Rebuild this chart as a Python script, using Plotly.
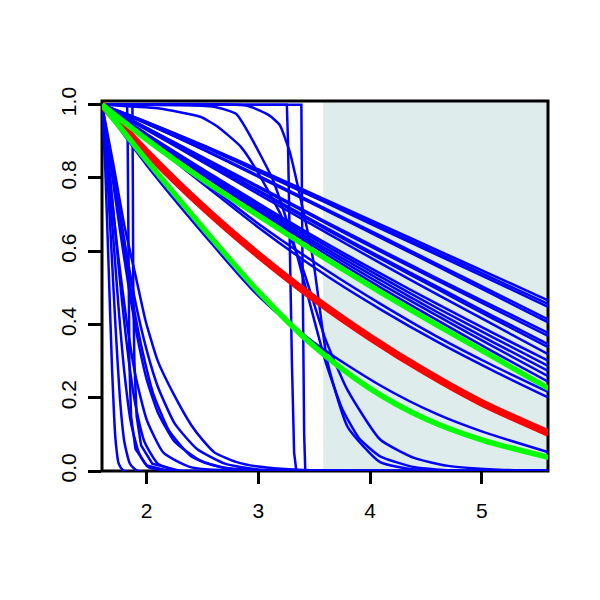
import plotly.graph_objects as go

# ---------------- data ----------------
# fan of slowly decaying blue curves, sampled at fan_t
fan_t = [1.6, 2.0, 2.5, 3.0, 3.6, 4.1, 4.6, 5.1, 5.6]
fan_1 = [1, 0.953, 0.890, 0.823, 0.741, 0.672, 0.603, 0.534, 0.465]
fan_2 = [1, 0.952, 0.888, 0.820, 0.737, 0.666, 0.596, 0.526, 0.455]
fan_3 = [1, 0.951, 0.886, 0.817, 0.733, 0.661, 0.590, 0.519, 0.447]
fan_4 = [1, 0.948, 0.879, 0.806, 0.716, 0.641, 0.565, 0.489, 0.413]
fan_5 = [1, 0.948, 0.878, 0.803, 0.712, 0.636, 0.559, 0.482, 0.405]
fan_6 = [1, 0.937, 0.857, 0.777, 0.681, 0.603, 0.526, 0.451, 0.376]
fan_7 = [1, 0.936, 0.855, 0.774, 0.677, 0.598, 0.520, 0.444, 0.368]
fan_8 = [1, 0.934, 0.850, 0.766, 0.665, 0.583, 0.503, 0.423, 0.345]
fan_9 = [1, 0.933, 0.848, 0.763, 0.661, 0.578, 0.497, 0.416, 0.337]
fan_10 = [1, 0.931, 0.844, 0.756, 0.652, 0.566, 0.482, 0.400, 0.318]
fan_11 = [1, 0.920, 0.824, 0.731, 0.623, 0.538, 0.456, 0.377, 0.300]
fan_12 = [1, 0.919, 0.820, 0.725, 0.616, 0.529, 0.445, 0.365, 0.286]
fan_13 = [1, 0.917, 0.817, 0.720, 0.608, 0.520, 0.434, 0.352, 0.272]
fan_14 = [1, 0.915, 0.813, 0.714, 0.601, 0.510, 0.424, 0.340, 0.258]
fan_15 = [1, 0.914, 0.809, 0.709, 0.593, 0.500, 0.412, 0.326, 0.243]
fan_16 = [1, 0.908, 0.792, 0.675, 0.550, 0.455, 0.367, 0.288, 0.215]
fan_17 = [1, 0.905, 0.785, 0.665, 0.535, 0.440, 0.353, 0.274, 0.200]
fan_curves = [fan_1, fan_2, fan_3, fan_4, fan_5, fan_6, fan_7, fan_8, fan_9,
              fan_10, fan_11, fan_12, fan_13, fan_14, fan_15, fan_16, fan_17]

# blue curve running beside the lower green one
bluec_t = [1.6, 2.0, 2.5, 3.0, 3.5, 4.1, 4.6, 5.0, 5.6]
bluec_s = [1, 0.835, 0.65, 0.478, 0.35, 0.232, 0.155, 0.108, 0.051]

# steep blue curves near the start
da_t = [1.6, 1.63, 1.66, 1.69, 1.72, 1.75, 1.8, 5.6]
da_s = [1, 0.82, 0.55, 0.28, 0.09, 0.02, 0, 0]
db_t = [1.6, 1.64, 1.68, 1.72, 1.76, 1.80, 1.85, 1.92, 5.6]
db_s = [1, 0.85, 0.63, 0.40, 0.20, 0.08, 0.02, 0, 0]
dh_t = [1.6, 1.65, 1.70, 1.75, 1.80, 1.86, 1.93, 2.02, 5.6]
dh_s = [1, 0.84, 0.64, 0.44, 0.27, 0.13, 0.05, 0.01, 0]
dc_t = [1.6, 1.66, 1.72, 1.78, 1.84, 1.9, 1.98, 2.1, 2.3, 5.6]
dc_s = [1, 0.84, 0.65, 0.46, 0.30, 0.18, 0.08, 0.02, 0, 0]
dd_t = [1.6, 1.68, 1.76, 1.84, 1.92, 2.0, 2.1, 2.25, 2.5, 2.8, 5.6]
dd_s = [1, 0.83, 0.66, 0.50, 0.36, 0.25, 0.16, 0.08, 0.025, 0.004, 0]
di_t = [1.6, 1.69, 1.78, 1.87, 1.96, 2.06, 2.2, 2.4, 2.7, 5.6]
di_s = [1, 0.82, 0.64, 0.47, 0.33, 0.21, 0.11, 0.04, 0.008, 0]
de_t = [1.6, 1.7, 1.8, 1.91, 1.99, 2.1, 2.25, 2.4, 2.5, 2.61, 2.8, 3.0, 3.4, 5.6]
de_s = [1, 0.84, 0.67, 0.52, 0.41, 0.30, 0.205, 0.125, 0.085, 0.05, 0.025, 0.012, 0.003, 0]
df_t = [1.6, 1.7, 1.8, 1.9, 2.0, 2.1, 2.25, 2.45, 2.7, 3.0, 5.6]
df_s = [1, 0.82, 0.63, 0.46, 0.33, 0.23, 0.13, 0.06, 0.02, 0.004, 0]
dg_t = [1.6, 1.67, 1.74, 1.82, 1.9, 2.0, 2.15, 2.4, 5.6]
dg_s = [1, 0.80, 0.60, 0.41, 0.26, 0.14, 0.05, 0.01, 0]

# curves that bend down late and fade out in the shaded part
ta_t = [1.6, 2.1, 2.48, 2.63, 2.84, 2.99, 3.2, 3.4, 3.6, 3.8, 4.09, 4.4, 4.7, 5.2, 5.6]
ta_s = [1, 0.99, 0.967, 0.941, 0.886, 0.818, 0.70, 0.55, 0.36, 0.22, 0.086, 0.035, 0.014, 0.003, 0]
tb_t = [1.6, 2.59, 2.8, 2.93, 3.13, 3.3, 3.45, 3.6, 3.75, 3.9, 4.09, 4.4, 4.8, 5.6]
tb_s = [1, 0.995, 0.975, 0.913, 0.795, 0.64, 0.47, 0.30, 0.17, 0.09, 0.04, 0.01, 0, 0]
tc_t = [1.6, 2.9, 3.1, 3.19, 3.28, 3.35, 3.49, 3.62, 3.8, 4.09, 4.4, 4.8, 5.6]
tc_s = [1, 0.997, 0.97, 0.945, 0.872, 0.782, 0.577, 0.296, 0.12, 0.024, 0.004, 0, 0]

smooth_curves = [(da_t, da_s), (db_t, db_s), (dh_t, dh_s), (dc_t, dc_s), (dd_t, dd_s),
                 (di_t, di_s), (de_t, de_s), (df_t, df_s), (dg_t, dg_s),
                 (ta_t, ta_s), (tb_t, tb_s), (tc_t, tc_s)]

# curves that stay at 1 and then drop almost vertically
e1a_t = [1.6, 1.825, 1.83, 1.835, 1.845, 1.86, 1.9, 2.0, 2.2, 5.6]
e1a_s = [1, 1, 0.9, 0.6, 0.3, 0.15, 0.06, 0.015, 0, 0]
e1b_t = [1.6, 1.872, 1.876, 1.88, 1.89, 1.91, 1.95, 2.05, 2.3, 5.6]
e1b_s = [1, 1, 0.8, 0.5, 0.3, 0.15, 0.07, 0.02, 0, 0]
e2a_t = [1.6, 3.255, 3.265, 3.28, 3.30, 3.32, 3.34, 5.6]
e2a_s = [1, 1, 0.9, 0.62, 0.3, 0.05, 0, 0]
e2b_t = [1.6, 3.385, 3.39, 3.40, 3.41, 3.42, 5.6]
e2b_s = [1, 1, 0.75, 0.4, 0.1, 0, 0]
step_curves = [(e1a_t, e1a_s), (e1b_t, e1b_s), (e2a_t, e2a_s), (e2b_t, e2b_s)]

# thick highlighted curves
red_t = [1.6, 2.0, 2.5, 3.0, 3.5, 4.0, 4.5, 5.0, 5.6]
red_s = [1, 0.87, 0.722, 0.59, 0.471, 0.365, 0.27, 0.186, 0.103]
green_hi_t = [1.6, 2.0, 2.5, 3.0, 3.6, 4.1, 4.6, 5.1, 5.6]
green_hi_s = [1, 0.905, 0.796, 0.697, 0.58, 0.487, 0.398, 0.312, 0.225]
green_lo_t = [1.6, 2.0, 2.5, 3.0, 3.5, 4.0, 4.5, 5.0, 5.6]
green_lo_s = [1, 0.848, 0.665, 0.49, 0.34, 0.225, 0.142, 0.085, 0.037]

shade_from = 3.58
x_ticks = [2, 3, 4, 5]
y_ticks = [0.0, 0.2, 0.4, 0.6, 0.8, 1.0]
y_tick_text = ["0.0", "0.2", "0.4", "0.6", "0.8", "1.0"]

# ---------------- figure ----------------
BLUE = "#0000FF"
fig = go.Figure()

for s in fan_curves:
    fig.add_trace(go.Scatter(x=fan_t, y=s, mode="lines",
                             line=dict(color=BLUE, width=2.5, shape="spline", smoothing=0.8)))
fig.add_trace(go.Scatter(x=bluec_t, y=bluec_s, mode="lines",
                         line=dict(color=BLUE, width=2.5, shape="spline", smoothing=0.8)))
for t, s in smooth_curves:
    fig.add_trace(go.Scatter(x=t, y=s, mode="lines",
                             line=dict(color=BLUE, width=2.5, shape="spline", smoothing=0.5)))
for t, s in step_curves:
    fig.add_trace(go.Scatter(x=t, y=s, mode="lines", line=dict(color=BLUE, width=2.5)))

fig.add_trace(go.Scatter(x=red_t, y=red_s, mode="lines",
                         line=dict(color="#FF0000", width=7.5, shape="spline", smoothing=0.8)))
fig.add_trace(go.Scatter(x=green_hi_t, y=green_hi_s, mode="lines",
                         line=dict(color="#00FF00", width=5.5, shape="spline", smoothing=0.8)))
fig.add_trace(go.Scatter(x=green_lo_t, y=green_lo_s, mode="lines",
                         line=dict(color="#00FF00", width=5.5, shape="spline", smoothing=0.8)))

fig.add_shape(type="rect", xref="x", yref="paper", x0=shade_from, x1=5.593, y0=0, y1=1,
              fillcolor="#DFECEC", line=dict(width=0), layer="below")
fig.add_shape(type="rect", xref="paper", yref="paper", x0=0, x1=1, y0=0, y1=1,
              line=dict(color="black", width=3), fillcolor="rgba(0,0,0,0)", layer="below")

font = dict(family="Liberation Sans, Arial, Helvetica, sans-serif", size=21, color="black")
fig.update_layout(
    width=600, height=600,
    margin=dict(l=94, r=60, t=93, b=137),
    plot_bgcolor="white", paper_bgcolor="white",
    showlegend=False,
    font=font,
)
fig.update_xaxes(range=[1.6, 5.593], tickvals=x_ticks, ticks="outside", ticklen=12,
                 tickwidth=2.5, tickcolor="black", showgrid=False, zeroline=False,
                 showline=False, tickfont=font, ticklabelstandoff=9)
fig.update_yaxes(range=[0, 1.01], tickvals=y_ticks, ticktext=y_tick_text, tickangle=-90,
                 ticks="outside", ticklen=13, tickwidth=2.5, tickcolor="black",
                 showgrid=False, zeroline=False, showline=False, tickfont=font,
                 ticklabelstandoff=4)

fig.write_html("out.html")
